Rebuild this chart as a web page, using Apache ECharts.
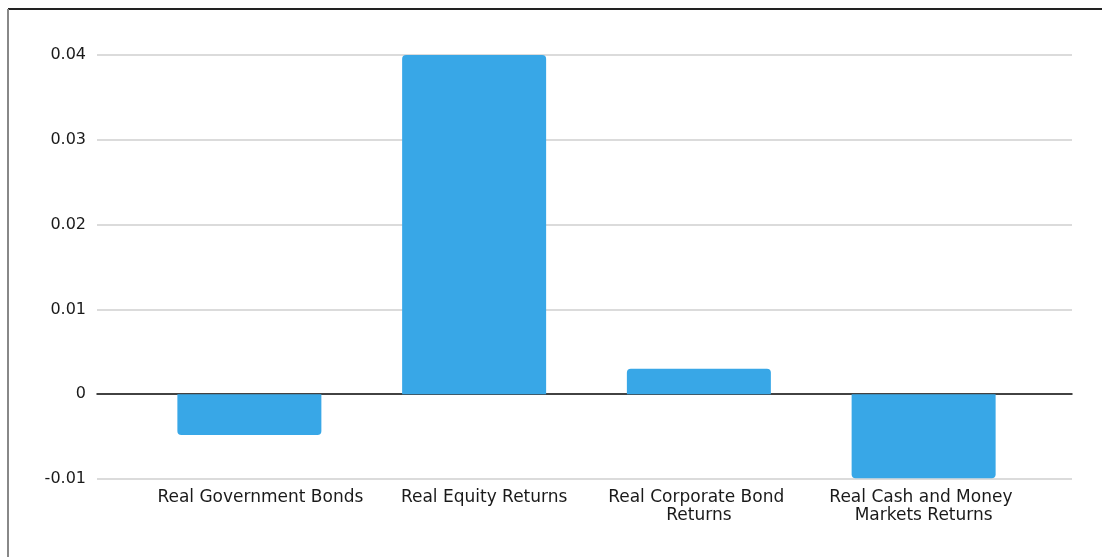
<!DOCTYPE html>
<html>
<head>
<meta charset="utf-8">
<script src="https://cdn.jsdelivr.net/npm/echarts@6/dist/echarts.min.js"></script>
<style>
  html, body { margin: 0; padding: 0; background: #fff; }
  #chart { width: 1102px; height: 557px; }
</style>
</head>
<body>
<div id="chart"></div>
<script>
// Real returns by asset class
const categories = [
  'Real Government Bonds',
  'Real Equity Returns',
  'Real Corporate Bond Returns',
  'Real Cash and Money Markets Returns'
];
const returns = [-0.0048, 0.04, 0.003, -0.0099];
const yTicks = { min: -0.01, max: 0.04, interval: 0.01 };

const FONT = '"DejaVu Sans"';
const BAR_COLOR = '#38A7E7';

const chart = echarts.init(document.getElementById('chart'), null, { renderer: 'canvas' });

const yCommon = {
  type: 'value',
  min: yTicks.min,
  max: yTicks.max,
  interval: yTicks.interval
};

// single-line labels sit slightly right of their bar
const labelNudge = [22, 20, 0, 0];

chart.setOption({
  animation: false,
  backgroundColor: '#fff',
  grid: [
    // frame holding the value scale and gridlines
    { left: 97, right: 30, top: 55, bottom: 78 },
    // inner band where the bars sit
    { left: 137, right: 66, top: 55, bottom: 78 }
  ],
  xAxis: [
    {
      gridIndex: 0, type: 'value', min: 0, max: 1,
      axisLine: { show: true, onZero: true, lineStyle: { color: '#111', width: 1.5 } },
      axisTick: { show: false }, axisLabel: { show: false }, splitLine: { show: false }
    },
    {
      gridIndex: 1, type: 'category',
      data: categories.map((c, i) => ({
        value: c,
        textStyle: { padding: [0, 0, 0, labelNudge[i]] }
      })),
      axisLine: { show: false }, axisTick: { show: false },
      axisLabel: {
        interval: 0, margin: 10, color: '#1a1a1a', fontFamily: FONT, fontSize: 17,
        lineHeight: 18, width: 222, overflow: 'break'
      }
    }
  ],
  yAxis: [
    Object.assign({}, yCommon, {
      gridIndex: 0,
      axisLine: { show: false }, axisTick: { show: false },
      axisLabel: { margin: 11, color: '#1a1a1a', fontFamily: FONT, fontSize: 16 },
      splitLine: { lineStyle: { color: '#cfcfcf', width: 1.5 } }
    }),
    Object.assign({}, yCommon, {
      gridIndex: 1, show: false, splitLine: { show: false }
    })
  ],
  graphic: [
    { type: 'line', shape: { x1: 8, y1: 9, x2: 1102, y2: 9 }, style: { stroke: '#222', lineWidth: 2 } },
    { type: 'line', shape: { x1: 8, y1: 9, x2: 8, y2: 557 }, style: { stroke: '#888', lineWidth: 2 } }
  ],
  series: [
    {
      type: 'bar',
      xAxisIndex: 1, yAxisIndex: 1,
      barWidth: 144,
      data: returns.map(v => ({
        value: v,
        itemStyle: {
          color: BAR_COLOR,
          borderRadius: v >= 0 ? [4, 4, 0, 0] : [0, 0, 4, 4]
        }
      }))
    }
  ]
});
</script>
</body>
</html>
